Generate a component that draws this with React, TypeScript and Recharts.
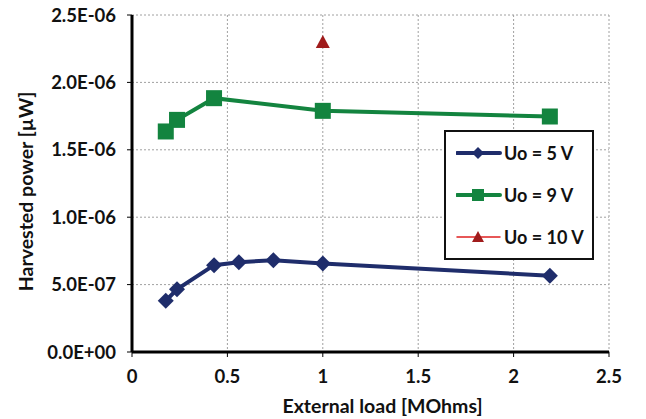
import React from 'react';
import {
  LineChart,
  Line,
  XAxis,
  YAxis,
  CartesianGrid,
  Legend,
} from 'recharts';

// External load [MOhms]
const loads5V = [0.177, 0.236, 0.43, 0.56, 0.741, 1.0, 2.19];
const power5V = [3.8e-7, 4.65e-7, 6.44e-7, 6.66e-7, 6.81e-7, 6.56e-7, 5.66e-7];

const loads9V = [0.177, 0.236, 0.43, 1.0, 2.19];
const power9V = [1.636e-6, 1.722e-6, 1.883e-6, 1.789e-6, 1.747e-6];

const loads10V = [1.0];
const power10V = [2.3e-6];

const xTicks = [0, 0.5, 1, 1.5, 2, 2.5];
const yTicks = [0, 5e-7, 1e-6, 1.5e-6, 2e-6, 2.5e-6];

const seriesNames = ['Uo = 5 V', 'Uo = 9 V', 'Uo = 10 V'];

const BLUE = '#1f2d6b';
const GREEN = '#13843f';
const RED = '#a01c1c';
const FONT = 'Lato, "Open Sans", sans-serif';

const toPoints = (xs: number[], ys: number[]) => xs.map((x, i) => ({ x, y: ys[i] }));

const data5 = toPoints(loads5V, power5V);
const data9 = toPoints(loads9V, power9V);
const data10 = toPoints(loads10V, power10V);

const fmtSci = (v: number) => {
  const [m, e] = v.toExponential(1).split('e');
  const n = parseInt(e, 10);
  return `${m}E${n < 0 ? '-' : '+'}${String(Math.abs(n)).padStart(2, '0')}`;
};

const Diamond = (props: any) => {
  const { cx, cy } = props;
  if (cx == null || cy == null) return null;
  const r = 8;
  return (
    <polygon
      points={`${cx},${cy - r} ${cx + r},${cy} ${cx},${cy + r} ${cx - r},${cy}`}
      fill={BLUE}
    />
  );
};

const Square = (props: any) => {
  const { cx, cy } = props;
  if (cx == null || cy == null) return null;
  const s = 8;
  return <rect x={cx - s} y={cy - s} width={s * 2} height={s * 2} fill={GREEN} />;
};

const Triangle = (props: any) => {
  const { cx, cy } = props;
  if (cx == null || cy == null) return null;
  return (
    <polygon
      points={`${cx},${cy - 7} ${cx + 7},${cy + 6} ${cx - 7},${cy + 6}`}
      fill={RED}
    />
  );
};

const LegendBox = () => {
  const items = [
    { name: seriesNames[0], color: BLUE, width: 4, marker: <polygon points="22,4 28,10 22,16 16,10" fill={BLUE} /> },
    { name: seriesNames[1], color: GREEN, width: 4, marker: <rect x={16} y={4} width={12} height={12} fill={GREEN} /> },
    { name: seriesNames[2], color: '#e02020', width: 1.5, marker: <polygon points="22,4 28,15 16,15" fill={RED} /> },
  ];
  return (
    <div
      style={{
        border: '2px solid #111',
        background: '#fff',
        width: 150,
        height: 130,
        boxSizing: 'border-box',
        paddingTop: 0,
        paddingLeft: 10,
      }}
    >
      {items.map((it) => (
        <div key={it.name} style={{ display: 'flex', alignItems: 'center', height: 42 }}>
          <svg width={46} height={20}>
            <line x1={1} y1={10} x2={44} y2={10} stroke={it.color} strokeWidth={it.width} strokeLinecap="round" />
            {it.marker}
          </svg>
          <span style={{ fontFamily: FONT, fontWeight: 700, fontSize: 18, color: '#111', marginLeft: 2 }}>
            {it.name}
          </span>
        </div>
      ))}
    </div>
  );
};

const App: React.FC = () => {
  return (
    <div style={{ position: 'absolute', left: 0, top: 0, width: 646, height: 419, background: '#fff' }}>
      <LineChart width={646} height={419} margin={{ top: 15, right: 37, left: 0, bottom: 0 }}>
        <CartesianGrid stroke="#a0a0a0" strokeDasharray="2 2" />
        <XAxis
          dataKey="x"
          type="number"
          domain={[0, 2.5]}
          ticks={xTicks}
          allowDuplicatedCategory={false}
          height={67}
          axisLine={{ stroke: '#000', strokeWidth: 3 }}
          tickLine={{ stroke: '#000' }}
          tickSize={5}
          tickMargin={13}
          tick={{ fontFamily: FONT, fontWeight: 700, fontSize: 18.5, fill: '#111' }}
          tickFormatter={(v: number) => String(v)}
          label={{
            value: 'External load [MOhms]',
            position: 'insideBottom',
            offset: 6,
            dx: 12,
            style: { fontFamily: FONT, fontWeight: 700, fontSize: 19.5, fill: '#111' },
          }}
        />
        <XAxis
          xAxisId="top"
          orientation="top"
          type="number"
          domain={[0, 2.5]}
          height={0}
          tick={false}
          tickLine={false}
          axisLine={{ stroke: '#000', strokeWidth: 3 }}
        />
        <YAxis
          type="number"
          domain={[0, 2.5e-6]}
          ticks={yTicks}
          width={132}
          axisLine={{ stroke: '#000', strokeWidth: 3 }}
          tickLine={{ stroke: '#000' }}
          tickSize={5}
          tickMargin={11}
          tick={{ fontFamily: FONT, fontWeight: 700, fontSize: 18.5, fill: '#111' }}
          tickFormatter={fmtSci}
          label={{
            value: 'Harvested power [µW]',
            angle: -90,
            position: 'insideLeft',
            offset: 26,
            dy: 8,
            style: { textAnchor: 'middle', fontFamily: FONT, fontWeight: 700, fontSize: 19.5, fill: '#111' },
          }}
        />
        <YAxis
          yAxisId="right"
          orientation="right"
          type="number"
          domain={[0, 2.5e-6]}
          width={0}
          tick={false}
          tickLine={false}
          axisLine={{ stroke: '#000', strokeWidth: 3 }}
        />
        <Legend
          layout="horizontal"
          verticalAlign="middle"
          align="center"
          content={<LegendBox />}
          wrapperStyle={{ position: 'absolute', left: 444, top: 130, width: 150, height: 130 }}
        />
        <Line
          data={data5}
          dataKey="y"
          name={seriesNames[0]}
          stroke={BLUE}
          strokeWidth={4}
          dot={<Diamond />}
          activeDot={false}
          isAnimationActive={false}
        />
        <Line
          data={data9}
          dataKey="y"
          name={seriesNames[1]}
          stroke={GREEN}
          strokeWidth={4}
          dot={<Square />}
          activeDot={false}
          isAnimationActive={false}
        />
        <Line
          data={data10}
          dataKey="y"
          name={seriesNames[2]}
          stroke="#e02020"
          strokeWidth={1.5}
          dot={<Triangle />}
          activeDot={false}
          isAnimationActive={false}
        />
      </LineChart>
    </div>
  );
};

export default App;
